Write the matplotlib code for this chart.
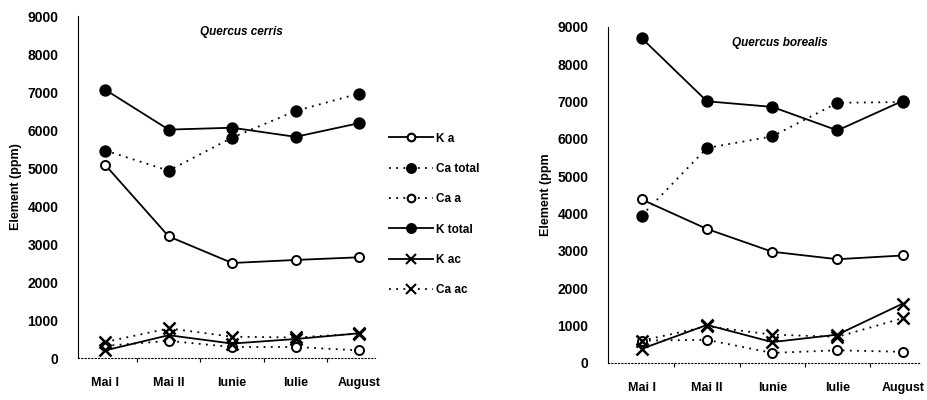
import matplotlib
matplotlib.use("Agg")
import matplotlib.pyplot as plt
from matplotlib.lines import Line2D

plt.rcParams['font.family'] = ['Liberation Sans', 'DejaVu Sans']
plt.rcParams['font.weight'] = 'bold'

months = ["Mai I", "Mai II", "Iunie", "Iulie", "August"]

# Quercus cerris
cerris_K_a = [5080, 3200, 2500, 2580, 2650]
cerris_Ca_total = [5460, 4930, 5800, 6500, 6960]
cerris_Ca_a = [320, 450, 290, 290, 200]
cerris_K_total = [7060, 6010, 6060, 5820, 6180]
cerris_K_ac = [200, 600, 380, 500, 650]
cerris_Ca_ac = [420, 780, 560, 540, 640]

# Quercus borealis
borealis_K_a = [4380, 3590, 2980, 2780, 2880]
borealis_Ca_total = [3950, 5760, 6070, 6970, 6990]
borealis_Ca_a = [600, 620, 270, 340, 300]
borealis_K_total = [8700, 7010, 6860, 6230, 7020]
borealis_K_ac = [380, 1020, 560, 760, 1590]
borealis_Ca_ac = [600, 980, 760, 700, 1200]

yticks = [0, 1000, 2000, 3000, 4000, 5000, 6000, 7000, 8000, 9000]

series_names = ["K a", "Ca total", "Ca a", "K total", "K ac", "Ca ac"]
styles = {
    "K a": dict(ls='-', marker='o', mfc='white', ms=6.5),
    "Ca total": dict(ls=(0, (1, 3)), marker='o', mfc='black', ms=7.5),
    "Ca a": dict(ls=(0, (1, 3)), marker='o', mfc='white', ms=6.5),
    "K total": dict(ls='-', marker='o', mfc='black', ms=7.5),
    "K ac": dict(ls='-', marker='x', mfc='black', ms=9),
    "Ca ac": dict(ls=(0, (1, 3)), marker='x', mfc='black', ms=9),
}

fig = plt.figure(figsize=(9.28, 4.0), dpi=100)

def draw(ax, data, title, ylabel, xlim):
    x = list(range(len(months)))
    for name, vals in zip(series_names, data):
        st = styles[name]
        ax.plot(x, vals, color='black', lw=1.3, linestyle=st['ls'],
                marker=st['marker'], markerfacecolor=st['mfc'],
                markeredgecolor='black', markersize=st['ms'],
                markeredgewidth=1.8 if st['marker'] == 'x' else 1.4,
                clip_on=False)
    ax.set_xlim(*xlim)
    ax.set_ylim(0, 9000)
    ax.set_yticks(yticks)
    ax.set_yticklabels([str(v) for v in yticks], fontsize=10, fontweight='bold')
    ax.set_xticks(x)
    ax.set_xticklabels(months, fontsize=9, fontweight='bold')
    ax.set_xticks([0.5, 1.5, 2.5, 3.5], minor=True)
    ax.tick_params(axis='x', which='major', length=0, pad=14)
    ax.tick_params(axis='x', which='minor', length=3, width=0.8, direction='out')
    ax.tick_params(axis='y', length=0, pad=14)
    for s in ['top', 'right']:
        ax.spines[s].set_visible(False)
    ax.spines['bottom'].set_linestyle((0, (1, 2)))
    ax.spines['bottom'].set_linewidth(0.8)
    ax.spines['left'].set_linewidth(0.8)
    ax.set_title(title, fontsize=8.5, fontstyle='italic', fontweight='bold',
                 y=0.92, x=0.55)
    ax.set_ylabel(ylabel, fontsize=9, fontweight='bold', labelpad=4)

ax1 = fig.add_axes([0.084, 0.105, 0.32, 0.855])
draw(ax1, [cerris_K_a, cerris_Ca_total, cerris_Ca_a, cerris_K_total, cerris_K_ac, cerris_Ca_ac],
     "Quercus cerris", "Element (ppm)", (-0.43, 4.25))

ax2 = fig.add_axes([0.655, 0.0925, 0.336, 0.84])
draw(ax2, [borealis_K_a, borealis_Ca_total, borealis_Ca_a, borealis_K_total, borealis_K_ac, borealis_Ca_ac],
     "Quercus borealis", "Element (ppm", (-0.52, 4.26))
ax2.spines['left'].set_linestyle((0, (4, 1)))

handles = []
for name in series_names:
    st = styles[name]
    handles.append(Line2D([], [], color='black', lw=1.3, linestyle=st['ls'],
                          marker=st['marker'], markerfacecolor=st['mfc'],
                          markeredgecolor='black', markersize=st['ms'] * 0.85,
                          markeredgewidth=1.5))
leg = fig.legend(handles, series_names, loc='upper left',
                 bbox_to_anchor=(0.408, 0.695), frameon=False,
                 handlelength=3.7, handletextpad=0.25,
                 labelspacing=1.55, prop={'weight': 'bold', 'size': 8.5})

fig.savefig("out.png", dpi=100)
